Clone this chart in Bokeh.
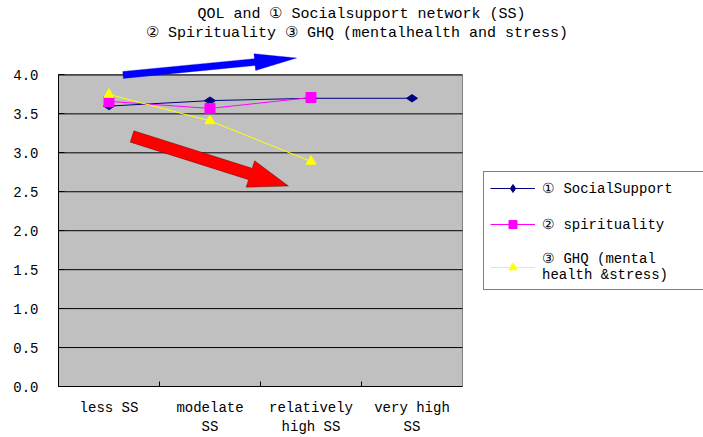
import math
from bokeh.plotting import figure
from bokeh.models import (FixedTicker, PrintfTickFormatter, Legend, LegendItem,
                          Label, PolyAnnotation)
from bokeh.embed import file_html
from bokeh.resources import INLINE

# ---------------- data ----------------
categories = ["less SS", "modelate\nSS", "relatively\nhigh SS", "very high\nSS"]
social_support = [3.60, 3.67, 3.70, 3.70]
spirituality = [3.66, 3.57, 3.71]
ghq = [3.75, 3.41, 2.89]
y_ticks = [0.0, 0.5, 1.0, 1.5, 2.0, 2.5, 3.0, 3.5, 4.0]
series_names = ["① SocialSupport", "② spirituality", "③ GHQ (mental\nhealth &stress)"]
title_lines = ["QOL and ① Socialsupport network (SS)",
               "② Spirituality  ③ GHQ (mentalhealth and stress)"]

FONT = "Liberation Mono"
x_pos = [i + 1 for i in range(len(categories))]
x_lo, x_hi = 0.5, len(categories) + 0.5
y_lo, y_top = y_ticks[0], y_ticks[-1]

# layout (px)
W, H = 703, 437
FL, FB = 58, 389                  # frame left / bottom edge on the canvas
PX_X, PX_Y = 101.0, 78.5          # px per data unit
x_view = x_lo + (W - FL) / PX_X   # frame reaches the right edge (legend area)
y_view = y_lo + FB / PX_Y         # frame reaches the top edge (title area)

p = figure(width=W, height=H, x_range=(x_lo, x_view), y_range=(y_lo, y_view),
           output_backend="svg", toolbar_location=None,
           min_border_left=FL, min_border_right=0,
           min_border_top=0, min_border_bottom=H - FB)
p.background_fill_color = "white"
p.border_fill_color = "white"
p.outline_line_color = None

# gray plot area + horizontal grid lines at the y ticks
p.quad(left=[x_lo], right=[x_hi], bottom=[y_lo], top=[y_top], fill_color="#C0C0C0",
       line_color="#808080", level="image")
p.segment(x0=[x_lo] * len(y_ticks), y0=y_ticks, x1=[x_hi] * len(y_ticks), y1=y_ticks,
          line_color="black", line_width=1, level="underlay")

# axes
p.xgrid.visible = False
p.ygrid.visible = False
p.yaxis.ticker = FixedTicker(ticks=y_ticks)
p.yaxis.bounds = (y_lo, y_top)
p.yaxis.formatter = PrintfTickFormatter(format="%.1f")
p.yaxis.axis_line_color = "black"
p.yaxis.major_tick_in = 6
p.yaxis.major_tick_out = 0
p.yaxis.major_tick_line_color = "black"
p.yaxis.minor_tick_line_color = None
p.yaxis.major_label_standoff = 20

mids = [(a + b) / 2 for a, b in zip(x_pos[:-1], x_pos[1:])]
p.xaxis.ticker = FixedTicker(ticks=x_pos, minor_ticks=mids)
p.xaxis.bounds = (x_lo, x_hi)
p.xaxis.major_label_overrides = {x: c for x, c in zip(x_pos, categories)}
p.xaxis.axis_line_color = "black"
p.xaxis.major_tick_in = 0
p.xaxis.major_tick_out = 0
p.xaxis.minor_tick_in = 5
p.xaxis.minor_tick_out = 0
p.xaxis.minor_tick_line_color = "black"
p.xaxis.major_label_standoff = 13

for ax in (p.xaxis, p.yaxis):
    ax.major_label_text_font = FONT
    ax.major_label_text_font_size = "14px"
    ax.major_label_text_color = "black"

# series
styles = [
    dict(color="#000080", marker="diamond", size=11, angle=math.pi / 2),
    dict(color="#FF00FF", marker="square", size=10, angle=0.0),
    dict(color="#FFFF00", marker="triangle", size=10, angle=0.0),
]
items = []
for name, ys, st in zip(series_names, [social_support, spirituality, ghq], styles):
    xs = x_pos[:len(ys)]
    ln = p.line(xs, ys, line_color=st["color"], line_width=1)
    sc = p.scatter(xs, ys, marker=st["marker"], size=st["size"], angle=st["angle"],
                   fill_color=st["color"], line_color=st["color"])
    items.append(LegendItem(label=name, renderers=[ln, sc]))


# block arrows (annotations)
def arrow_poly(x0, y0, x1, y1, shaft_w, head_w, head_len):
    X0, Y0, X1, Y1 = x0 * PX_X, y0 * PX_Y, x1 * PX_X, y1 * PX_Y
    L = math.hypot(X1 - X0, Y1 - Y0)
    dx, dy = (X1 - X0) / L, (Y1 - Y0) / L
    nx, ny = -dy, dx
    bx, by = X1 - dx * head_len, Y1 - dy * head_len
    pts = [(X0 + nx * shaft_w / 2, Y0 + ny * shaft_w / 2),
           (bx + nx * shaft_w / 2, by + ny * shaft_w / 2),
           (bx + nx * head_w / 2, by + ny * head_w / 2),
           (X1, Y1),
           (bx - nx * head_w / 2, by - ny * head_w / 2),
           (bx - nx * shaft_w / 2, by - ny * shaft_w / 2),
           (X0 - nx * shaft_w / 2, Y0 - ny * shaft_w / 2)]
    return [q[0] / PX_X for q in pts], [q[1] / PX_Y for q in pts]


bxs, bys = arrow_poly(1.139, 4.0, 2.857, 4.217, 7, 17, 42)
p.add_layout(PolyAnnotation(xs=bxs, ys=bys, fill_color="#0000FF", fill_alpha=1.0,
                            line_color="#0000C0", line_width=1))
rxs, rys = arrow_poly(1.228, 3.21, 2.777, 2.573, 12, 28, 40)
p.add_layout(PolyAnnotation(xs=rxs, ys=rys, fill_color="#FF0000", fill_alpha=1.0,
                            line_color="black", line_width=1))

# title lines
for t, yy in zip(title_lines, [4.78, 4.535]):
    p.add_layout(Label(x=3.5, y=yy, text=t, text_align="center", text_baseline="middle",
                       text_font=FONT, text_font_size="15px", text_color="black"))

legend = Legend(items=items, location=(483 - FL, FB - 293), border_line_color="black",
                border_line_width=1, background_fill_color="white", background_fill_alpha=1,
                glyph_width=45, glyph_height=20, label_standoff=7, padding=6, spacing=16,
                label_width=172, label_text_font=FONT, label_text_font_size="14px",
                label_text_color="black", margin=0)
p.add_layout(legend)

open("out.html", "w").write(file_html(p, INLINE))
